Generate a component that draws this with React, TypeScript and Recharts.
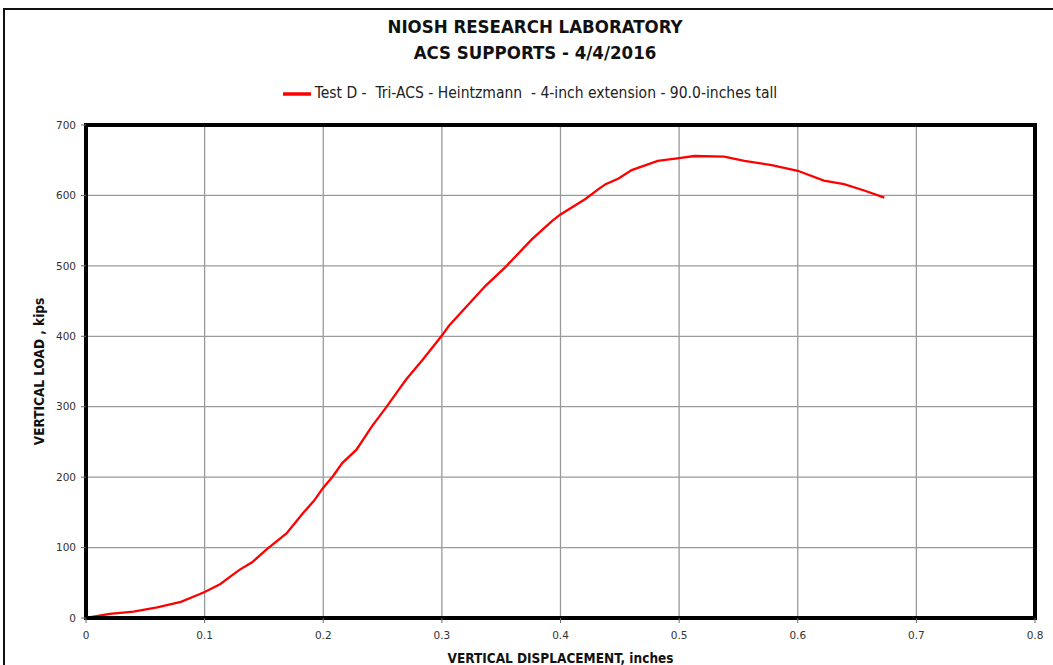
import React from "react";
import { CartesianGrid, Label, Legend, Line, LineChart, ReferenceArea, XAxis, YAxis } from "recharts";

const displacement = [
  0, 0.02, 0.04, 0.06, 0.08, 0.096, 0.1, 0.113, 0.129, 0.14, 0.152, 0.169, 0.183, 0.192, 0.2,
  0.208, 0.216, 0.228, 0.241, 0.253, 0.264, 0.27, 0.284, 0.3, 0.306, 0.32, 0.337, 0.354, 0.376,
  0.393, 0.4, 0.421, 0.432, 0.438, 0.449, 0.46, 0.482, 0.5, 0.513, 0.538, 0.555, 0.578, 0.6,
  0.622, 0.639, 0.656, 0.673,
];
const load = [
  0, 6, 9, 15, 23, 34, 37, 48, 68, 79, 97, 120, 149, 166, 185,
  201, 220, 239, 272, 299, 325, 339, 367, 401, 415, 441, 472, 499, 538,
  564, 573, 595, 609, 616, 624, 636, 649, 653, 656, 655, 649, 643, 635,
  621, 616, 607, 597,
];
const xTicks = [0, 0.1, 0.2, 0.3, 0.4, 0.5, 0.6, 0.7, 0.8];
const yTicks = [0, 100, 200, 300, 400, 500, 600, 700];
const seriesName = "Test D -  Tri-ACS - Heintzmann  - 4-inch extension - 90.0-inches tall";

const data = displacement.map((x, i) => ({ x, load: load[i] }));

const titleFont = '"Liberation Sans Narrow", "DejaVu Sans Condensed", Arial, sans-serif';
const tickFont = { fontSize: 10.5, fill: "#333", fontFamily: '"DejaVu Sans", Verdana, sans-serif' };

export default function App() {
  return (
    <div
      style={{
        position: "fixed",
        left: 0,
        top: 0,
        width: 1053,
        height: 665,
        overflow: "hidden",
        background: "#fff",
      }}
    >
      <div
        style={{
          position: "absolute",
          left: 3,
          top: 8,
          width: 1070,
          height: 680,
          border: "2px solid #111",
        }}
      />
      <div
        style={{
          position: "absolute",
          left: 0,
          top: 14,
          width: 1070,
          textAlign: "center",
          fontFamily: titleFont,
          fontWeight: "bold",
          fontSize: 18.5,
          lineHeight: "26px",
          color: "#111",
        }}
      >
        <div>NIOSH RESEARCH LABORATORY</div>
        <div>ACS SUPPORTS - 4/4/2016</div>
      </div>
      <LineChart
        width={1053}
        height={700}
        data={data}
        margin={{ top: 97, right: 18, left: 0, bottom: 42 }}
        style={{ position: "absolute", left: 0, top: 0 }}
      >
        <CartesianGrid stroke="#9a9a9a" strokeWidth={1.3} />
        <Legend
          verticalAlign="top"
          align="center"
          iconType="plainline"
          iconSize={28}
          wrapperStyle={{ top: 80, left: 0, width: 1070 }}
          formatter={(v: string) => (
            <span
              style={{
                whiteSpace: "pre",
                color: "#222",
                fontSize: 15.5,
                fontFamily: titleFont,
              }}
            >
              {v}
            </span>
          )}
        />
        <XAxis
          dataKey="x"
          type="number"
          domain={[0, 0.8]}
          ticks={xTicks}
          tick={tickFont}
          tickSize={5}
          tickMargin={9}
          height={40}
          axisLine={{ stroke: "#000", strokeWidth: 4 }}
          tickLine={{ stroke: "#666" }}
        >
          <Label
            content={({ viewBox }: any) => (
              <text
                x={viewBox.x + viewBox.width / 2}
                y={viewBox.y + 45}
                textAnchor="middle"
                fontFamily={titleFont}
                fontWeight="bold"
                fontSize={13.5}
                fill="#111"
              >
                VERTICAL DISPLACEMENT, inches
              </text>
            )}
          />
        </XAxis>
        <YAxis
          type="number"
          domain={[0, 700]}
          ticks={yTicks}
          tick={tickFont}
          tickSize={5}
          tickMargin={5}
          width={86}
          axisLine={{ stroke: "#000", strokeWidth: 4 }}
          tickLine={{ stroke: "#666" }}
        >
          <Label
            content={({ viewBox }: any) => {
              const cx = viewBox.x + 44;
              const cy = viewBox.y + viewBox.height / 2;
              return (
                <text
                  x={cx}
                  y={cy}
                  textAnchor="middle"
                  transform={`rotate(-90 ${cx} ${cy})`}
                  fontFamily={titleFont}
                  fontWeight="bold"
                  fontSize={13.5}
                  fill="#111"
                >
                  VERTICAL LOAD , kips
                </text>
              );
            }}
          />
        </YAxis>
        <ReferenceArea
          x1={0}
          x2={0.8}
          y1={0}
          y2={700}
          fill="none"
          stroke="#000"
          strokeWidth={4}
          ifOverflow="visible"
        />
        <Line
          type="linear"
          dataKey="load"
          name={seriesName}
          stroke="#ff0000"
          strokeWidth={2.3}
          dot={false}
          isAnimationActive={false}
        />
      </LineChart>
    </div>
  );
}
